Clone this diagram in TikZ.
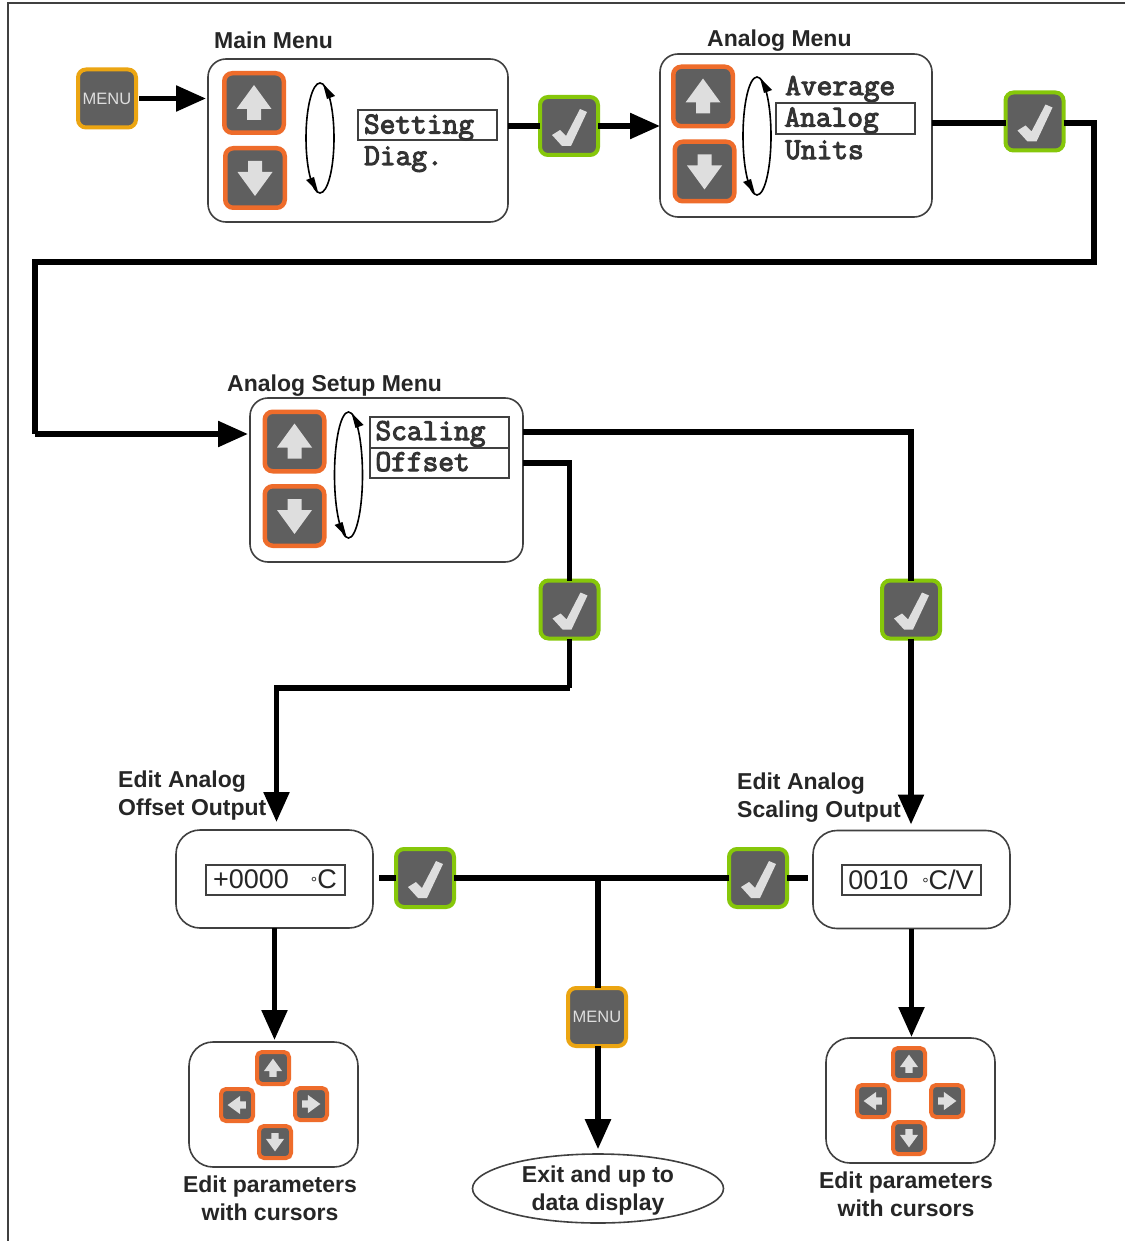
\documentclass[tikz,border=0pt]{standalone}
\usepackage{fontspec}
\usepackage{xcolor}
\setmainfont{Liberation Sans}
\setmonofont{Latin Modern Mono}[FakeBold=3.5]
\usetikzlibrary{arrows.meta,shapes.geometric}

\definecolor{keygray}{HTML}{5F5F5F}
\definecolor{glyphgray}{HTML}{DEDEDE}
\definecolor{panelgray}{HTML}{404040}
\definecolor{cursororange}{HTML}{EE6C2B}
\definecolor{menuamber}{HTML}{EBA512}
\definecolor{okgreen}{HTML}{86C70A}

\tikzset{
  keybase/.style={draw,fill=keygray,line width=4pt,rounded corners=8pt,inner sep=0pt,outer sep=0pt,minimum size=58pt},
  cursorkey/.style={keybase,draw=cursororange,line width=4.5pt,minimum size=59.5pt},
  smallkey/.style={keybase,draw=cursororange,line width=4pt,rounded corners=5pt,minimum size=32pt},
  menukey/.style={keybase,draw=menuamber,text=glyphgray,font=\fontsize{16.5}{18}\selectfont},
  okkey/.style={keybase,draw=okgreen},
  panel/.style={draw=panelgray,fill=white,line width=1.6pt,rounded corners=18pt,inner sep=0pt,outer sep=0pt},
  dispbox/.style={draw=panelgray,fill=white,line width=2pt,inner sep=0pt,outer sep=0pt,minimum width=139pt,minimum height=30pt},
  monotext/.style={font=\ttfamily\fontsize{30.5}{32}\selectfont,text=black!80,text height=18pt,text depth=2pt},
  monobox/.style={dispbox,monotext,text width=127pt,align=left},
  readout/.style={dispbox,font=\fontsize{27}{30}\selectfont,text=black!85},
  title/.style={font=\bfseries\fontsize{23}{27.5}\selectfont,text=black!85,inner sep=0pt,align=left,anchor=west},
  caption/.style={font=\bfseries\fontsize{23}{28}\selectfont,text=black!85,inner sep=0pt,align=center},
  flow/.style={line width=5.5pt,black},
  flowtip/.style={flow,-{Triangle[length=30pt,width=25pt]}},
}

\newcommand{\upglyph}[3]{\fill[glyphgray,shift={(#1)},rotate=#2,scale=#3]
  (0,-18) -- (17.5,6) -- (7,6) -- (7,17) -- (-7,17) -- (-7,6) -- (-17.5,6) -- cycle;}
\newcommand{\bigkey}[3]{\node[cursorkey] (#1) at (#2) {}; \upglyph{#1}{#3}{1}}
\newcommand{\tinykey}[3]{\node[smallkey] (#1) at (#2) {}; \upglyph{#1}{#3}{0.52}}
\newcommand{\okglyph}[2]{\node[okkey] (#1) at (#2) {};
  \fill[glyphgray,shift={(#1)}] (-17,9) -- (-9,4) -- (-3,10) -- (11,-17) -- (18,-14) -- (2,20) -- (-7,20) -- cycle;}
\newcommand{\loopmark}[3]{\draw[black,line width=1.6pt] (#1,#2) ellipse[x radius=14,y radius=#3];
  \fill[black,shift={(#1,#2)}] (3,1-#3) -- (15,13-#3) -- (7,16-#3) -- cycle;
  \fill[black,shift={(#1,#2)}] (-2,#3-1) -- (-14,#3-13) -- (-6,#3-16) -- cycle;}

\begin{document}
\begin{tikzpicture}[x=1pt,y=-1pt]
\useasboundingbox (0,0) rectangle (1125,1241);
\draw[panelgray,line width=2.5pt] (8,1241) -- (8,3) -- (1125,3);

\node[menukey] (menustart) at (107,98.5) {MENU};

\node[panel,minimum width=300pt,minimum height=163pt] (mainmenu) at (358,140.5) {};
\node[title] (maintitle) at (214,40) {Main Menu};
\bigkey{mainup}{254,103}{0}
\bigkey{maindown}{255,178}{180}
\loopmark{320}{138}{55}
\node[monobox] (settingbox) at (427.5,125.5) {Setting};
\node[monotext,inner sep=0pt,anchor=west] (diagtext) at (364,157) {Diag.};
\okglyph{okmain}{569,126}

\node[panel,minimum width=272pt,minimum height=163pt] (analogmenu) at (796,135.5) {};
\node[title] (analogtitle) at (707,41) {Analog Menu};
\bigkey{analogup}{703,96.5}{0}
\bigkey{analogdown}{704.5,171.5}{180}
\loopmark{757}{136}{59}
\node[monotext,inner sep=0pt,anchor=west] (averagetext) at (785,87) {Average};
\node[monobox,minimum width=139pt,minimum height=31pt,text width=127pt] (analogbox) at (845.5,118.5) {\hspace*{2.5pt}Analog};
\node[monotext,inner sep=0pt,anchor=west] (unitstext) at (785,151) {Units};
\okglyph{okanalog}{1034.5,121.5}

\node[panel,minimum width=273pt,minimum height=164pt] (setupmenu) at (386.5,480) {};
\node[title] (setuptitle) at (227,386) {Analog Setup Menu};
\bigkey{setupup}{294.5,441.5}{0}
\bigkey{setupdown}{294.5,516}{180}
\loopmark{348.5}{475}{63}
\node[monobox,minimum height=31pt] (scalingbox) at (439,432) {Scaling};
\node[monobox] (offsetbox) at (439,463) {Offset};
\okglyph{oksetupoff}{569.5,609.5}
\okglyph{oksetupsca}{911,609.5}

\node[title] (offsettitle) at (118,795.5) {Edit Analog\\Offset Output};
\node[title] (scalingtitle) at (737,797.5) {Edit Analog\\Scaling Output};

\node[panel,rounded corners=24pt,minimum width=197pt,minimum height=98pt] (editoffset) at (274.5,879) {};
\node[readout] (offsetread) at (275,879.5) {+0000\hspace{22pt}{\fontsize{16}{18}\selectfont°}C};
\node[panel,rounded corners=24pt,minimum width=197pt,minimum height=98pt] (editscaling) at (911.5,879.5) {};
\node[readout] (scalingread) at (911,880) {0010\hspace{14pt}{\fontsize{16}{18}\selectfont°}C/V};
\okglyph{okoffset}{425,878}
\okglyph{okscaling}{758,878}

\node[panel,rounded corners=24pt,minimum width=169pt,minimum height=125pt] (cursorsleft) at (273.5,1104.5) {};
\tinykey{leftup}{273,1068}{0}
\tinykey{leftleft}{237,1105}{90}
\tinykey{leftright}{311,1104}{-90}
\tinykey{leftdown}{275,1142}{180}
\node[caption] (leftcaption) at (270,1198) {Edit parameters\\with cursors};

\node[panel,rounded corners=24pt,minimum width=169pt,minimum height=125pt] (cursorsright) at (910.5,1100.5) {};
\tinykey{rightup}{909,1064}{0}
\tinykey{rightleft}{873,1101}{90}
\tinykey{rightright}{947,1101}{-90}
\tinykey{rightdown}{909,1138}{180}
\node[caption] (rightcaption) at (906,1194) {Edit parameters\\with cursors};

\node[menukey] (menuexit) at (597,1017) {MENU};
\node[caption,draw=panelgray,fill=white,line width=1.6pt,shape=ellipse,minimum width=251pt,minimum height=69pt,inner sep=0pt,text depth=0pt] (exitoval) at (598,1188.5) {Exit and up to\\data display};

\coordinate (wrapright) at (1094,262);
\coordinate (wrapleft) at (35,262);
\coordinate (wrapfoot) at (35,434);
\coordinate (analogline) at (1034,123);
\coordinate (offsetbend) at (569.5,688);
\coordinate (exitjoin) at (598,878);

\begin{scope}
    \draw[flowtip,shorten <=3pt,shorten >=2pt] (menustart.east) -- (menustart.east -| mainmenu.west);
    \draw[flow] (okmain -| mainmenu.east) -- (okmain.west);
    \draw[flowtip] (okmain.east) -- (okmain -| analogmenu.west);
    \draw[flow] (analogline -| analogmenu.east) -- (analogline -| okanalog.west);
    \draw[flow] (analogline -| okanalog.east) -| (wrapright) -- (wrapleft) -- (wrapfoot);
    \draw[flowtip,shorten >=2pt] (wrapfoot) -- (wrapfoot -| setupmenu.west);

    \draw[flow] (scalingbox -| setupmenu.east) -| (oksetupsca.north);
    \draw[flowtip,shorten >=6pt] (oksetupsca.south) -- (oksetupsca |- editscaling.north);
    \draw[flow] (offsetbox -| setupmenu.east) -| (oksetupoff.north);
    \draw[flow] (oksetupoff.south) -- (offsetbend);
    \draw[flowtip,shorten >=8pt] (offsetbend) -| ([xshift=2pt]editoffset.north);

    \draw[flow] ([xshift=6pt]editoffset.east |- okoffset) -- (okoffset.west);
    \draw[flow] (okoffset.east) -- (okscaling.west);
    \draw[flow] (okscaling.east) -- ([xshift=-5pt]editscaling.west |- okscaling);
    \draw[flow] (exitjoin) -- (menuexit.north -| exitjoin);
    \draw[flowtip,shorten >=4pt] (menuexit.south -| exitjoin) -- (exitoval.north);

    \draw[flowtip,shorten >=2pt] (editoffset.south) -- (editoffset.south |- cursorsleft.north);
    \draw[flowtip,shorten >=1pt] (editscaling.south) -- (editscaling.south |- cursorsright.north);
\end{scope}
\end{tikzpicture}
\end{document}
